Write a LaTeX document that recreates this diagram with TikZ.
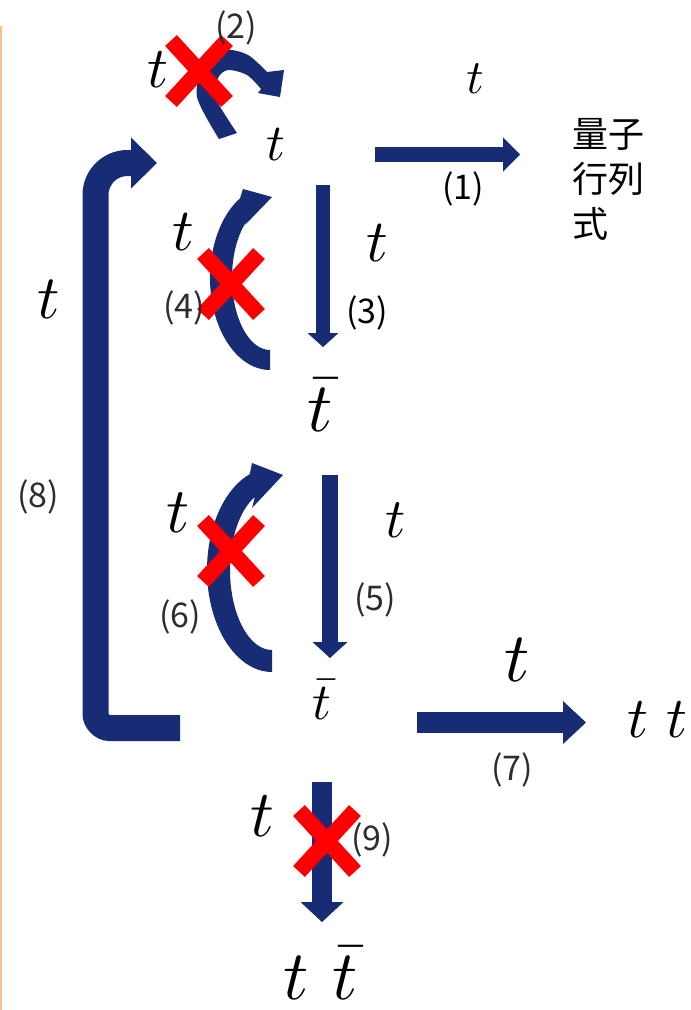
\documentclass[tikz,border=0pt]{standalone}
\usepackage{graphicx}
\usepackage{fontspec}
\newfontfamily\cjk{Noto Sans CJK JP}
\usetikzlibrary{arrows.meta,shapes.misc}
\definecolor{navy}{RGB}{23,44,117}
\definecolor{edgeorange}{RGB}{248,192,145}
\definecolor{lab}{RGB}{45,45,45}
\newcommand{\bigt}[1]{\scalebox{#1}{$t$}}
\newcommand{\bigtbar}[1]{\scalebox{#1}{$\bar t$}}
\begin{document}
\begin{tikzpicture}[x=1pt,y=-1pt,
  tnode/.style={inner sep=0pt, anchor=base},
  lbl/.style={inner sep=0pt, font=\cjk\fontsize{34}{35}\selectfont, text=lab},
  xmark/.style={cross out, draw=red, line width=16pt, minimum width=40pt, minimum height=45pt, inner sep=0pt},
  blockarrow/.style n args={3}{draw=navy, line width=#1, -{Triangle[length=#2, width=#3, line width=0pt]}}]
\fill[white] (0,0) rectangle (691,1010);
\useasboundingbox (0,0) rectangle (691,1010);
\draw[edgeorange, line width=2pt] (1,26) -- (1,1010);

% text nodes
\node[tnode] (tA) at (158,87) {\bigt{5.8}};
\node[tnode] (tB) at (276,160) {\bigt{5.2}};
\node[tnode] (tC) at (475,93) {\bigt{4.8}};
\node[tnode] (tD) at (183,250) {\bigt{6.0}};
\node[tnode] (tE) at (377,261) {\bigt{6.0}};
\node[tnode] (tF) at (49,318) {\bigt{6.2}};
\node[tnode] (tb1) at (320,431) {\bigtbar{7.0}};
\node[tnode] (tG) at (178,532) {\bigt{6.4}};
\node[tnode] (tH) at (396,537) {\bigt{5.6}};
\node[tnode] (tb2) at (322,719) {\bigtbar{5.2}};
\node[tnode] (tI) at (517,681) {\bigt{7.0}};
\node[tnode] (tt1) at (638,737) {\bigt{5.8}};
\node[tnode] (tt2) at (677,737) {\bigt{5.8}};
\node[tnode] (tJ) at (262,836) {\bigt{6.6}};
\node[tnode] (tK) at (296,999) {\bigt{7.0}};
\node[tnode] (tb3) at (345,999) {\bigtbar{7.0}};

\node[inner sep=0pt, anchor=north west, align=left, font=\cjk\fontsize{36}{45}\selectfont] (qd) at (572,118) {量子\\行列\\式};

% straight block arrows
\coordinate (a1s) at (375,154.5); \coordinate (a1e) at (520,154.5);
\coordinate (a3s) at (323,185);   \coordinate (a3e) at (323,347);
\coordinate (a5s) at (330,475);   \coordinate (a5e) at (330,658);
\coordinate (a7s) at (417,722.5); \coordinate (a7e) at (586,722.5);
\coordinate (a9s) at (322,782);   \coordinate (a9e) at (322,922);
\draw[blockarrow={15pt}{17pt}{34pt}] (a1s) -- (a1e);
\draw[blockarrow={14pt}{14pt}{31pt}] (a3s) -- (a3e);
\draw[blockarrow={16pt}{16pt}{35pt}] (a5s) -- (a5e);
\draw[blockarrow={21pt}{23pt}{43pt}] (a7s) -- (a7e);
\draw[blockarrow={20pt}{20pt}{43pt}] (a9s) -- (a9e);

% bracket arrow (8)
\coordinate (b8s) at (180,728); \coordinate (b8e) at (157,163);
\draw[blockarrow={26pt}{26pt}{51pt}] (b8s) -- (109.5,728) .. controls (101.8,728) and (95.5,720.3) .. (95.5,714)
  -- (95.5,195) .. controls (95.5,177.3) and (109.8,163) .. (127.5,163) -- (b8e);

% curved arrow (2)
\fill[navy] plot[smooth] coordinates {(219,139) (197,97) (204,64) (225,50) (248,55) (267,72)}
  -- (284,70) -- (280,97) -- (258,93)
  -- plot[smooth] coordinates {(261,89) (247,75) (228,70) (218,78) (215,97) (237,133)} -- cycle;

% curved arrow (4)
\fill[navy] plot[domain=90:240, samples=40] ({270+60*cos(\x)},{278+92*sin(\x)})
  -- (243,189) -- (272,197) -- (245,225)
  -- plot[domain=0:145, samples=40] ({270+38*cos(235-\x)},{278+72*sin(235-\x)}) -- cycle;

% curved arrow (6)
\fill[navy] plot[domain=90:250, samples=40] ({272+65*cos(\x)},{570+102*sin(\x)})
  -- (252,463) -- (283,475) -- (252,508)
  -- plot[domain=0:156, samples=40] ({272+42*cos(246-\x)},{570+80*sin(246-\x)}) -- cycle;

% red crosses
\node[xmark] (x2) at (199,71) {};
\node[xmark] (x4) at (231,284) {};
\node[xmark] (x6) at (231,551) {};
\node[xmark] (x9) at (327,841) {};

% labels
\node[lbl] (l2) at (236,28) {(2)};
\node[lbl, text=black] (l1) at (463,189) {(1)};
\node[lbl, text=black] (l3) at (367,313) {(3)};
\node[lbl] (l4) at (184,308) {(4)};
\node[lbl] (l5) at (375,600) {(5)};
\node[lbl] (l6) at (180,617) {(6)};
\node[lbl] (l7) at (512,770) {(7)};
\node[lbl] (l8) at (38,497) {(8)};
\node[lbl] (l9) at (372,840) {(9)};
\end{tikzpicture}
\end{document}
